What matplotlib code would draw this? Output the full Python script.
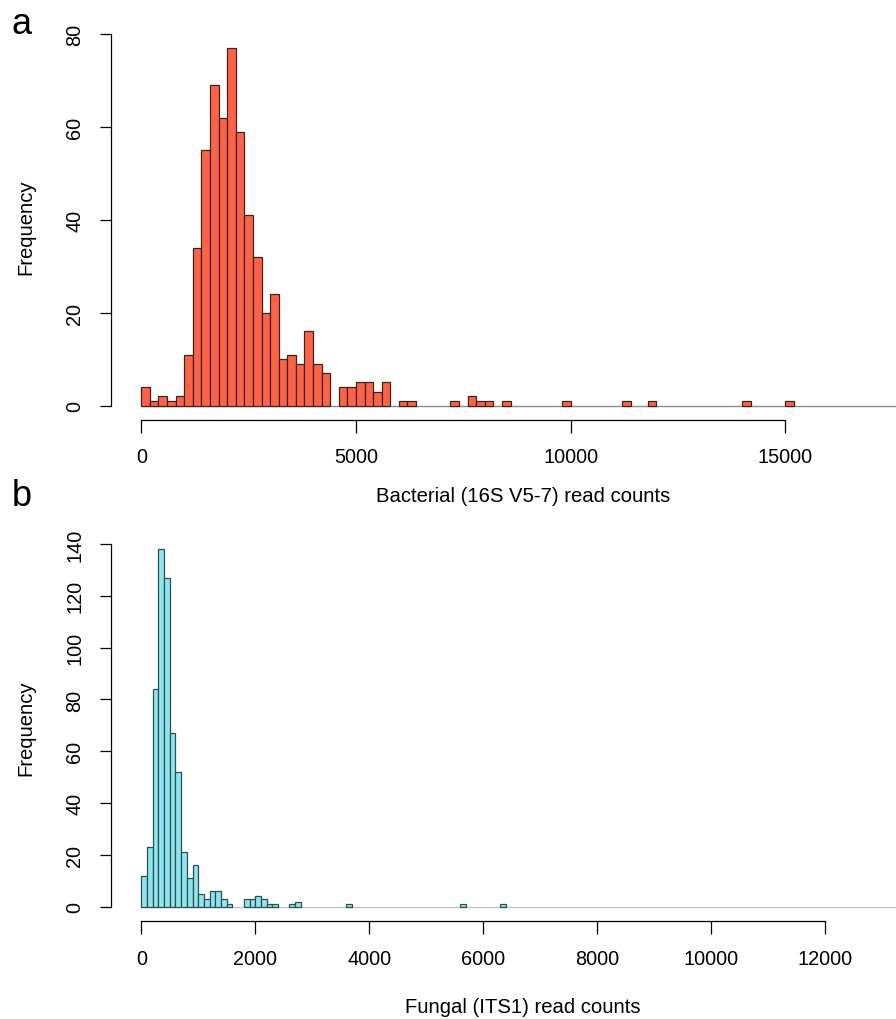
import numpy as np
import matplotlib
matplotlib.use("Agg")
import matplotlib.pyplot as plt

plt.rcParams['font.family'] = ['Liberation Sans', 'DejaVu Sans']

# bacterial read counts, bins of 200 starting at 0
BACT_BIN = 200
bact_counts = [4, 1, 2, 1, 2, 11, 34, 55, 69, 62,
               77, 59, 41, 32, 20, 24, 10, 11, 9, 16,
               9, 7, 0, 4, 4, 5, 5, 3, 5, 0,
               1, 1, 0, 0, 0, 0, 1, 0, 2, 1,
               1, 0, 1, 0, 0, 0, 0, 0, 0, 1,
               0, 0, 0, 0, 0, 0, 1, 0, 0, 1,
               0, 0, 0, 0, 0, 0, 0, 0, 0, 0,
               1, 0, 0, 0, 0, 1]
bact_xticks = [0, 5000, 10000, 15000]
bact_yticks = [0, 20, 40, 60, 80]

# fungal read counts, bins of 100 starting at 0
FUNG_BIN = 100
fung_counts = [12, 23, 84, 138, 127, 67, 52, 21, 11, 16,
               5, 3, 6, 6, 3, 1, 0, 0, 3, 3,
               4, 3, 1, 1, 0, 0, 1, 2, 0, 0,
               0, 0, 0, 0, 0, 0, 1, 0, 0, 0,
               0, 0, 0, 0, 0, 0, 0, 0, 0, 0,
               0, 0, 0, 0, 0, 0, 1, 0, 0, 0,
               0, 0, 0, 1]
fung_xticks = [0, 2000, 4000, 6000, 8000, 10000, 12000]
fung_yticks = [0, 20, 40, 60, 80, 100, 120, 140]

W, H = 896, 1020
fig = plt.figure(figsize=(W / 100, H / 100), dpi=100)


def px_axes(left, top, right, bottom):
    return fig.add_axes([left / W, 1 - bottom / H, (right - left) / W, (bottom - top) / H])


def panel(box, counts, binw, color, edge, base_col, xticks, yticks,
          x0px, xmaxpx, y0px, ytoppx, xaxis_px):
    left, top, right, bottom = box
    ax = px_axes(left, top, right, bottom)
    xs = (xmaxpx - x0px) / xticks[-1]
    ys = (y0px - ytoppx) / yticks[-1]
    ax.set_xlim((left - x0px) / xs, (right - x0px) / xs)
    ax.set_ylim((y0px - bottom) / ys, (y0px - top) / ys)

    counts = np.array(counts)
    edges = np.arange(len(counts)) * binw
    keep = counts > 0
    ax.plot([0, (right - x0px) / xs], [0, 0], color=base_col, lw=1.0, zorder=1)
    ax.bar(edges[keep], counts[keep], width=binw, align='edge',
           color=color, edgecolor=edge, linewidth=0.9, zorder=2)

    for s in ['top', 'right']:
        ax.spines[s].set_visible(False)
    ax.spines['left'].set_bounds(yticks[0], yticks[-1])
    ax.spines['bottom'].set_bounds(xticks[0], xticks[-1])
    ax.spines['bottom'].set_position(('outward', (xaxis_px - bottom) * 0.72))
    for s in ['left', 'bottom']:
        ax.spines[s].set_linewidth(0.9)

    ax.set_xticks(xticks)
    ax.set_yticks(yticks)
    ax.tick_params(axis='x', length=9, width=0.9, pad=11, labelsize=14.3)
    ax.tick_params(axis='y', length=8, width=0.9, pad=11, labelsize=14.3,
                   labelrotation=90)
    for lbl in ax.get_yticklabels():
        lbl.set_va('center')
    return ax


panel((110.7, 30, 896, 412), bact_counts, BACT_BIN, '#ff6347', '#3a2420', '#8c8c8c',
      bact_xticks, bact_yticks, 141.3, 785.3, 406.7, 35, 420.7)
panel((110.7, 540, 896, 912), fung_counts, FUNG_BIN, '#8ee5ee', '#2e4f52', '#c4c4c4',
      fung_xticks, fung_yticks, 141.3, 825, 907.7, 545, 922.3)


def ftext(x, y, s, **kw):
    fig.text(x / W, 1 - y / H, s, ha='center', va='center', **kw)


ftext(22, 25, 'a', fontsize=26)
ftext(22, 497, 'b', fontsize=26)
ftext(523, 496, 'Bacterial (16S V5-7) read counts', fontsize=14.6)
ftext(523, 1008, 'Fungal (ITS1) read counts', fontsize=14.6)
ftext(26, 227, 'Frequency', fontsize=14.6, rotation=90)
ftext(26, 728, 'Frequency', fontsize=14.6, rotation=90)

fig.savefig('out.png', dpi=100)
